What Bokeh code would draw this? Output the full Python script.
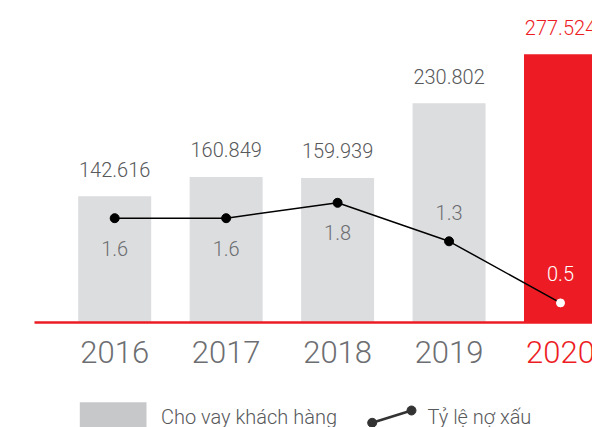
from bokeh.plotting import figure
from bokeh.models import Range1d
from bokeh.core.properties import value
from bokeh.embed import file_html
from bokeh.resources import INLINE

# ---- data ----
years = ["2016", "2017", "2018", "2019", "2020"]
loans = [142.616, 160.849, 159.939, 230.802, 277.524]     # Cho vay khách hàng
npl = [1.6, 1.6, 1.8, 1.3, 0.5]                            # Tỷ lệ nợ xấu (%)
legend_labels = ["Cho vay khách hàng", "Tỷ lệ nợ xấu"]

# ---- style ----
RED = "#ED1C24"
BAR_GREY = "#DCDDDF"
SWATCH_GREY = "#C7C8CA"
TXT = "#6D6E71"
TXT_DARK = "#58595B"
FONT = value("Roboto Light")

W, H = 592, 427
OFF = 0             # page offset of the figure
S = 111.45          # px per category
X0 = -(114.2 - OFF) / S
K = 1.052           # px per unit of loans
Y_BASE = 22.5       # value at the drawn baseline
YTOP = Y_BASE + (322 - OFF) / K
R_TOP = 1.6 + (217.7 - OFF) / 77.0
R_BOT = R_TOP - H / 77.0

def X(px):
    return X0 + (px - OFF) / S

def Y(py):
    return YTOP - (py - OFF) / K

p = figure(width=W, height=H, output_backend="svg", toolbar_location=None,
           x_range=Range1d(X0, X0 + W / S), y_range=Range1d(YTOP - H / K, YTOP),
           min_border=0, outline_line_color=None, background_fill_color="white")
p.extra_y_ranges = {"ratio": Range1d(R_BOT, R_TOP)}
p.axis.visible = False
p.grid.visible = False

xs = list(range(len(years)))
last = len(years) - 1
bar_colors = [RED if i == last else BAR_GREY for i in xs]
p.vbar(x=xs, top=loans, bottom=Y_BASE, width=0.655, fill_color=bar_colors, line_color=None)

# baseline
p.segment(x0=[X(34)], y0=[Y_BASE], x1=[X0 + W / S], y1=[Y_BASE], line_color=RED, line_width=2.5)

# value labels
p.text(x=xs, y=loans, text=[f"{v:.3f}" for v in loans], text_align="center",
       text_baseline="alphabetic", y_offset=-27, text_font=FONT, text_font_size="20px",
       text_color=[RED if i == last else TXT_DARK for i in xs])

# NPL line
p.line(x=xs, y=npl, y_range_name="ratio", line_color="black", line_width=1.5)
p.scatter(x=xs[:-1], y=npl[:-1], y_range_name="ratio", size=9, fill_color="black", line_color="black")
p.scatter(x=xs[-1:], y=npl[-1:], y_range_name="ratio", size=8, fill_color="white", line_color="white")

# NPL labels: below the point while it stays high, above once it drops
offs = [30 if r >= 1.5 else -29 for r in npl]
p.text(x=xs, y=npl, y_range_name="ratio", text=[f"{r:.1f}" for r in npl], text_align="center",
       text_baseline="alphabetic", y_offset=offs, text_font=FONT, text_font_size="20px",
       text_color=["white" if i == last else TXT for i in xs])

# year labels
p.text(x=xs, y=[Y_BASE] * len(xs), text=years, text_align="center", text_baseline="alphabetic",
       y_offset=29.5, text_font=FONT, text_font_size="31px",
       text_color=[RED if i == last else TXT for i in xs])

# legend (drawn)
p.quad(left=[X(79.3)], right=[X(146)], top=[Y(401.7)], bottom=[Y(427)], fill_color=SWATCH_GREY, line_color=None)
p.text(x=[X(160.5)], y=[Y(416.3)], text=[legend_labels[0]], text_baseline="alphabetic",
       text_font=FONT, text_font_size="20px", text_color=TXT_DARK)
p.line(x=[X(371.7), X(411)], y=[Y(422.3), Y(410)], line_color="#333333", line_width=2.5)
p.scatter(x=[X(371.7), X(411)], y=[Y(422.3), Y(410)], size=9, fill_color="#333333", line_color="#333333")
p.text(x=[X(427)], y=[Y(416.3)], text=[legend_labels[1]], text_baseline="alphabetic",
       text_font=FONT, text_font_size="20px", text_color=TXT_DARK)

open("out.html", "w").write(file_html(p, INLINE))
